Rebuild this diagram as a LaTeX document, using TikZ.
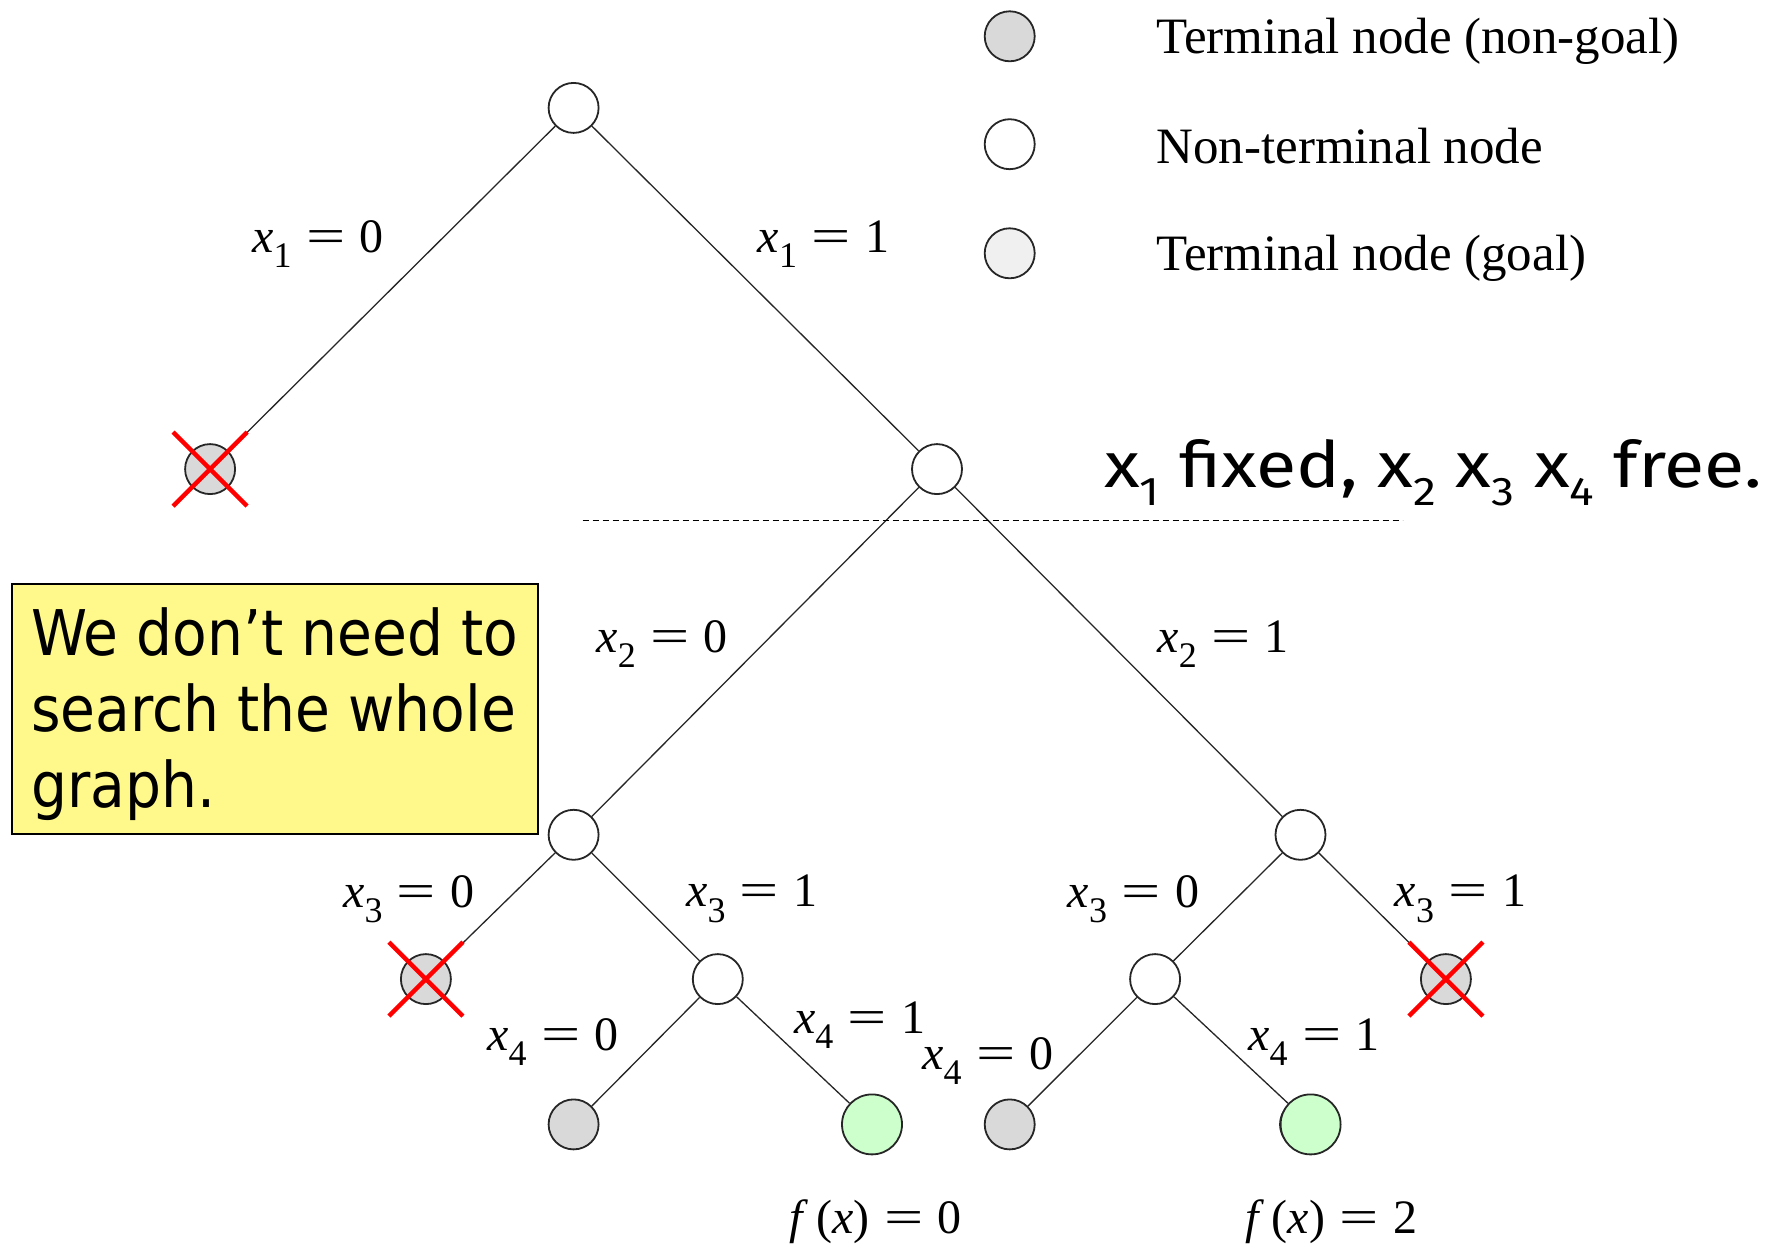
\documentclass[tikz,border=0pt]{standalone}
\usepackage{graphicx}
\usepackage{fontspec}
\setmainfont{Liberation Serif}
\newfontfamily\notefont{DejaVu Sans}[FakeStretch=0.9]
\newfontfamily\handfont{Fira Sans}[FakeStretch=1.15]
\newcommand\eqsign{\hspace{0.3em}\scalebox{1.45}[1]{=}\hspace{0.3em}}
\newcommand\xeq[2]{\textit{x}\raisebox{-0.32em}{\fontsize{36}{36}\selectfont #1}\eqsign#2}
\newcommand\hx[1]{x\raisebox{-0.28em}{\fontsize{40}{40}\selectfont #1}}
\begin{document}
\begin{tikzpicture}[x=1pt,y=-1pt,
  vtx/.style={circle,draw=black!85,line width=1.8pt,minimum size=50pt,inner sep=0pt},
  inner/.style={vtx,fill=white},
  dead/.style={vtx,fill=black!15},
  goal/.style={vtx,fill=green!20,minimum size=60pt},
  legoal/.style={vtx,fill=black!6},
  edge/.style={line width=1.3pt,black!85},
  lab/.style={font=\fontsize{48}{52}\selectfont,inner sep=0pt},
  legtxt/.style={font=\fontsize{51}{56}\selectfont,anchor=west,inner sep=0pt},
  cross/.style={red,line width=4.5pt}]
\useasboundingbox (0,0) rectangle (1781,1244);

% tree nodes
\node[inner] (r)   at (573.6,107.9) {};
\node[dead]  (a)   at (210.1,469.1) {};
\node[inner] (b)   at (937.0,469.1) {};
\node[inner] (c)   at (573.6,834.8) {};
\node[inner] (d)   at (1300.5,834.8) {};
\node[dead]  (c0)  at (425.9,979.1) {};
\node[inner] (c1)  at (717.8,979.1) {};
\node[inner] (d0)  at (1155.1,979.1) {};
\node[dead]  (d1)  at (1445.9,979.1) {};
\node[dead]  (c10) at (573.6,1124.4) {};
\node[dead]  (c11) at (868.0,1124.4) {};
\node[goal]  (g1)  at (872.0,1124.4) {};
\node[dead]  (d00) at (1009.7,1124.4) {};
\node[dead]  (d01) at (1305.0,1124.4) {};
\node[goal]  (g2)  at (1310.6,1124.4) {};

% branches
\draw[edge] (r) -- (a);
\draw[edge] (r) -- (b);
\draw[edge] (b) -- (c);
\draw[edge] (b) -- (d);
\draw[edge] (c) -- (c0);
\draw[edge] (c) -- (c1);
\draw[edge] (d) -- (d0);
\draw[edge] (d) -- (d1);
\draw[edge] (c1) -- (c10);
\draw[edge] (c1) -- (g1);
\draw[edge] (d0) -- (d00);
\draw[edge] (d0) -- (g2);

% branch labels
\node[lab] at (318,244) {\xeq{1}{0}};
\node[lab] at (823.5,244) {\xeq{1}{1}};
\node[lab] at (662.2,644) {\xeq{2}{0}};
\node[lab] at (1223.3,644) {\xeq{2}{1}};
\node[lab] at (408.9,899) {\xeq{3}{0}};
\node[lab] at (751.9,899) {\xeq{3}{1}};
\node[lab] at (1133.5,899) {\xeq{3}{0}};
\node[lab] at (1460.6,899) {\xeq{3}{1}};
\node[lab] at (553.1,1042) {\xeq{4}{0}};
\node[lab] at (859.8,1025) {\xeq{4}{1}};
\node[lab] at (988.1,1061) {\xeq{4}{0}};
\node[lab] at (1314.1,1042) {\xeq{4}{1}};
\node[lab] (f1) at (875.7,1222) {\textit{f}\,(\textit{x})\eqsign0};
\node[lab] (f2) at (1331.2,1222) {\textit{f}\,(\textit{x})\eqsign2};

% pruned nodes
\foreach \n in {a,c0,d1}{
  \draw[cross] ([shift={(-37,-37)}]\n.center) -- ([shift={(37,37)}]\n.center);
  \draw[cross] ([shift={(-37,37)}]\n.center) -- ([shift={(37,-37)}]\n.center);
}

% dashed level line
\coordinate (dl) at (582.7,520.2);
\coordinate (dr) at (1402.7,520.2);
\draw[line width=1.2pt,dash pattern=on 6pt off 4pt] (dl) -- (dr);

\node[font=\handfont\fontsize{64}{68}\selectfont,anchor=west,inner sep=0pt] (fx) at (1104,473)
  {\hx{1} fixed, \hx{2} \hx{3} \hx{4} free.};

% note box
\node[draw=black,line width=1.6pt,fill=yellow!45!white,anchor=north west,minimum width=526pt,minimum height=250pt,
  inner sep=0pt] (note) at (11,583) {};
\node[font=\notefont\fontsize{63}{76}\selectfont,align=left,anchor=north west,inner sep=0pt] (notetxt) at (31,607)
  {We don’t need to\\search the whole\\graph.};

% legend
\node[dead]   (l1) at (1009.7,36.3) {};
\node[inner]  (l2) at (1009.7,144.2) {};
\node[legoal] (l3) at (1009.7,253.3) {};
\node[legtxt] (t1) at (1156.2,41) {Terminal node (non-goal)};
\node[legtxt] (t2) at (1156.2,146) {Non-terminal node};
\node[legtxt] (t3) at (1156.2,258) {Terminal node (goal)};
\end{tikzpicture}
\end{document}
